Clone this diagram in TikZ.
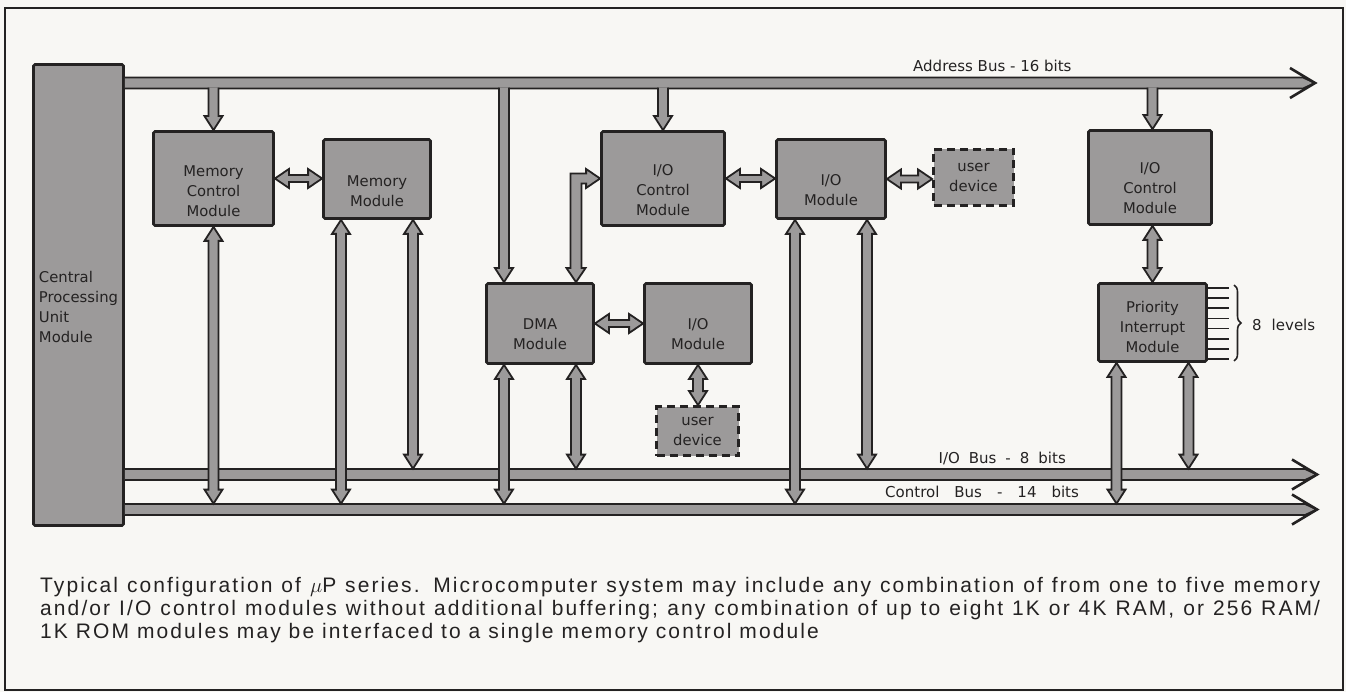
\documentclass[tikz,border=0pt]{standalone}
\usepackage{fontspec}
\setmainfont{Liberation Sans}
\newfontfamily\boxfont{DejaVu Sans}
\newfontfamily\capfont[LetterSpace=10]{Liberation Sans}
\usetikzlibrary{calc,decorations.pathreplacing}
\definecolor{paper}{RGB}{248,247,244}
\definecolor{ink}{RGB}{36,34,34}
\definecolor{shade}{RGB}{156,154,154}
\tikzset{
  shaftw/.store in=\shaftw, tipw/.store in=\tipw, tipl/.store in=\tipl,
  shaftw=5pt, tipw=9pt, tipl=14pt,
  slim/.style={shaftw=3.5pt,tipw=9.5pt,tipl=14pt},
  bus/.style={draw=ink,fill=shade,line width=1.8pt,line join=miter},
  % one head; the tail is left open so it runs into the bus
  oneway/.style={bus,to path={
    ($(\tikztostart)!\shaftw!90:(\tikztotarget)$)
    -- ($(\tikztotarget)!\tipl!(\tikztostart)!\shaftw!-90:(\tikztostart)$)
    -- ($(\tikztotarget)!\tipl!(\tikztostart)!\tipw!-90:(\tikztostart)$)
    -- (\tikztotarget)
    -- ($(\tikztotarget)!\tipl!(\tikztostart)!\tipw!90:(\tikztostart)$)
    -- ($(\tikztotarget)!\tipl!(\tikztostart)!\shaftw!90:(\tikztostart)$)
    -- ($(\tikztostart)!\shaftw!-90:(\tikztotarget)$)}},
  twoway/.style={bus,to path={
    -- ($(\tikztostart)!\tipl!(\tikztotarget)!\tipw!90:(\tikztotarget)$)
    -- ($(\tikztostart)!\tipl!(\tikztotarget)!\shaftw!90:(\tikztotarget)$)
    -- ($(\tikztotarget)!\tipl!(\tikztostart)!\shaftw!-90:(\tikztostart)$)
    -- ($(\tikztotarget)!\tipl!(\tikztostart)!\tipw!-90:(\tikztostart)$)
    -- (\tikztotarget)
    -- ($(\tikztotarget)!\tipl!(\tikztostart)!\tipw!90:(\tikztostart)$)
    -- ($(\tikztotarget)!\tipl!(\tikztostart)!\shaftw!90:(\tikztostart)$)
    -- ($(\tikztostart)!\tipl!(\tikztotarget)!\shaftw!-90:(\tikztotarget)$)
    -- ($(\tikztostart)!\tipl!(\tikztotarget)!\tipw!-90:(\tikztotarget)$)
    -- cycle}}
}
\begin{document}
\begin{tikzpicture}[x=1pt,y=-1pt,
  module/.style={draw=ink,fill=shade,line width=2.8pt,rounded corners=1.5pt,inner sep=0pt},
  userdev/.style={module,rounded corners=0pt,dash pattern=on 8pt off 5pt},
  txt/.style={font=\boxfont\fontsize{14.8}{20}\selectfont,text=ink,align=center,inner sep=0pt},
  lbl/.style={font=\boxfont\fontsize{15}{18}\selectfont,text=ink,inner sep=0pt},
  chev/.style={draw=ink,line width=2.6pt,line join=miter},
  captxt/.style={font=\capfont\fontsize{21}{23}\selectfont,text=ink,align=left,inner sep=0pt}]
\fill[paper] (0,0) rectangle (1346,692);
\useasboundingbox (0,0) rectangle (1346,692);
\draw[ink,line width=2.2pt] (5,8) rectangle (1343,690);
% processor
\node[module,minimum width=90pt,minimum height=461pt,
  label={[txt,align=left,yshift=-12pt]center:Central\\Processing\\Unit\\Module}] (cpu) at (78.5,295) {};
% the three buses
\coordinate (adrtip) at (1315,83);
\coordinate (iotip) at (1317,474.5);
\coordinate (ctltip) at (1317,509.5);
\draw[oneway,shaftw=5.5pt,tipw=5.5pt,tipl=12pt] (cpu.east |- adrtip) to (adrtip);
\draw[oneway,shaftw=5.5pt,tipw=5.5pt,tipl=12pt] (cpu.east |- iotip) to (iotip);
\draw[oneway,shaftw=5.5pt,tipw=5.5pt,tipl=12pt] (cpu.east |- ctltip) to (ctltip);
\foreach \t in {adrtip,iotip,ctltip}
  \draw[chev] ($(\t)+(-25,-15)$) -- (\t) -- ($(\t)+(-25,15)$);
\node[lbl,anchor=base west] (adrlbl) at (913,72) {Address Bus - 16 bits};
\node[lbl,anchor=base east] (iolbl) at (1066,463)
  {I/O\hspace{9pt}Bus\hspace{9pt}-\hspace{9pt}8\hspace{9pt}bits};
\node[lbl,anchor=base west] (ctllbl) at (885,497)
  {Control\hspace{15pt}Bus\hspace{15pt}-\hspace{15pt}14\hspace{15pt}bits};
% modules
\node[module,minimum width=120pt,minimum height=94pt,
  label={[txt,yshift=-13pt]center:Memory\\Control\\Module}] (mcm) at (213.5,178.5) {};
\node[module,minimum width=107pt,minimum height=79pt,
  label={[txt,yshift=-12pt]center:Memory\\Module}] (mm) at (377,179) {};
\node[module,minimum width=123pt,minimum height=94pt,
  label={[txt,yshift=-12pt]center:I/O\\Control\\Module}] (iocmA) at (663,178.5) {};
\node[module,minimum width=109pt,minimum height=79pt,
  label={[txt,yshift=-11pt]center:I/O\\Module}] (iomA) at (831,179) {};
\node[userdev,minimum width=80pt,minimum height=56pt,
  label={[txt]center:user\\device}] (userA) at (973.5,177.5) {};
\node[module,minimum width=107pt,minimum height=80pt,
  label={[txt,yshift=-11pt]center:DMA\\Module}] (dma) at (540,323.5) {};
\node[module,minimum width=107pt,minimum height=80pt,
  label={[txt,yshift=-11pt]center:I/O\\Module}] (iomB) at (698,323.5) {};
\node[userdev,minimum width=82pt,minimum height=49pt,
  label={[txt]center:user\\device}] (userB) at (697.5,431) {};
\node[module,minimum width=123pt,minimum height=94pt,
  label={[txt,yshift=-11pt]center:I/O\\Control\\Module}] (iocmB) at (1150,177.5) {};
\node[module,minimum width=108pt,minimum height=78pt,
  label={[txt,yshift=-4pt]center:Priority\\Interrupt\\Module}] (pim) at (1152.5,322.5) {};
% interrupt lines
\foreach \k in {0,...,7}
  \draw[ink,line width=1.8pt] (1207,{288+10.14*\k}) -- (1229,{288+10.14*\k});
\draw[ink,line width=1.6pt,decorate,decoration={brace,amplitude=7pt}] (1234,285) -- (1234,361);
\node[lbl,anchor=west] (levels) at (1252,325) {8\hspace{10pt}levels};
% bus connections
\coordinate (adr) at (0,87.6);
\coordinate (iob) at (0,468.6);
\coordinate (ctl) at (0,503.6);
\path (mm.south) ++(-36,0) coordinate (mmL) ++(72,0) coordinate (mmR);
\path (dma.south) ++(-36,0) coordinate (dmaL) ++(72,0) coordinate (dmaR);
\path (dma.north) ++(-36,0) coordinate (dmaNL) ++(72,0) coordinate (dmaNR);
\path (iomA.south) ++(-36,0) coordinate (iomAL) ++(72,0) coordinate (iomAR);
\path (pim.south) ++(-36,0) coordinate (pimL) ++(72,0) coordinate (pimR);
\draw[oneway] (mcm.north |- adr) to (mcm.north);
\draw[oneway] (dmaNL |- adr) to (dmaNL);
\draw[oneway] (iocmA.north |- adr) to (iocmA.north);
\draw[oneway] (pim.north |- adr) to (pim.north |- iocmB.north);
\draw[twoway] (mcm.south) to (mcm.south |- ctl);
\draw[twoway] (mmL) to (mmL |- ctl);
\draw[twoway] (mmR) to (mmR |- iob);
\draw[twoway] (dmaL) to (dmaL |- ctl);
\draw[twoway] (dmaR) to (dmaR |- iob);
\draw[twoway] (iomAL) to (iomAL |- ctl);
\draw[twoway] (iomAR) to (iomAR |- iob);
\draw[twoway] (pimL) to (pimL |- ctl);
\draw[twoway] (pimR) to (pimR |- iob);
\draw[twoway] (pim.north |- iocmB.south) to (pim.north);
\draw[twoway] (iomB.south) to (iomB.south |- userB.north);
\draw[twoway,slim] (mcm.east) to (mcm.east -| mm.west);
\draw[twoway,slim] (iocmA.east) to (iocmA.east -| iomA.west);
\draw[twoway,slim] (iomA.east) to (iomA.east -| userA.west);
\draw[twoway,slim] (dma.east) to (dma.east -| iomB.west);
% elbow from the I/O control module down to the DMA module
\coordinate (bend) at (dmaNR |- iocmA.west);
\draw[bus] ($(bend)+(-5.5,-5)$) -- ($(iocmA.west)+(-14,-5)$) -- ($(iocmA.west)+(-14,-9.5)$)
  -- (iocmA.west) -- ($(iocmA.west)+(-14,9.5)$) -- ($(iocmA.west)+(-14,5)$)
  -- ($(bend)+(5.5,5)$) -- ($(dmaNR)+(5.5,-14)$) -- ($(dmaNR)+(9.5,-14)$)
  -- (dmaNR) -- ($(dmaNR)+(-9.5,-14)$) -- ($(dmaNR)+(-5.5,-14)$) -- cycle;
% caption
\node[captxt,anchor=north west] (caption) at (40,577)
  {\makebox[1280pt][s]{Typical configuration of $\mu$P series. Microcomputer system may include any combination of from one to five memory}\\
   \makebox[1280pt][s]{and/or I/O control modules without additional buffering; any combination of up to eight 1K or 4K RAM, or 256 RAM/}\\
   1K ROM modules may be interfaced to a single memory control module};
\end{tikzpicture}
\end{document}
